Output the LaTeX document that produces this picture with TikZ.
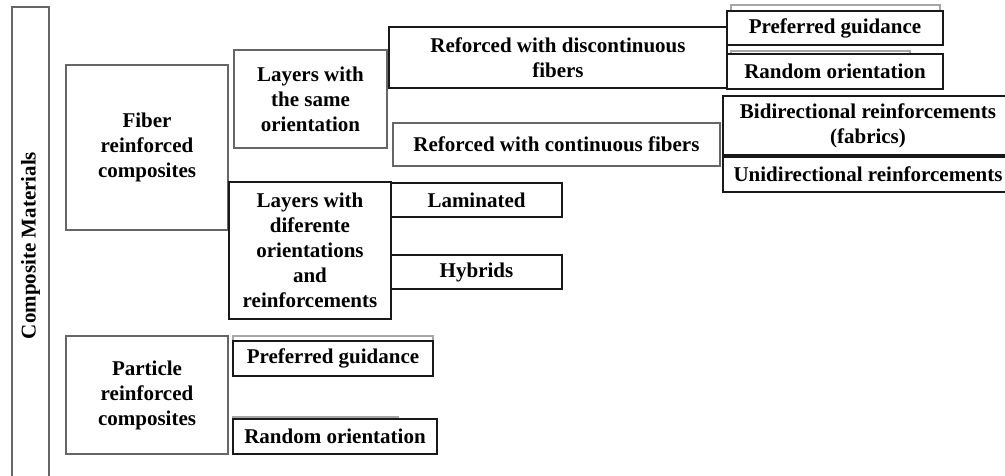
\documentclass[tikz,border=0pt]{standalone}
\usepackage{fontspec}
\setmainfont{Liberation Serif}
\begin{document}
\begin{tikzpicture}[x=1pt, y=-1pt,
    box/.style={draw=black!90, line width=1.4pt, fill=white, align=center, inner sep=2pt},
    greybox/.style={box, draw=black!60},
    ghost/.style={draw=black!35, line width=1.2pt}]
        \useasboundingbox (0,0) rectangle (1005,476);
        \fontsize{21}{25}\selectfont\bfseries

        % Main bar
        \node[greybox, rotate=90, minimum width=477, minimum height=37] (bar) at (30.5,245.5) {Composite Materials};

        % Faint boxes behind the choices
        \draw[ghost] (731,5) rectangle (940,30);
        \draw[ghost] (731,51) rectangle (910,64);
        \draw[ghost] (233,336) rectangle (433,350);
        \draw[ghost] (233,417) rectangle (398,430);

        % Fiber reinforced composites
        \node[greybox, minimum width=162, minimum height=165] (fiber) at (147,147.5) {Fiber\\reinforced\\composites};
        \node[greybox, minimum width=153, minimum height=98] (same) at (310.5,99) {Layers with\\the same\\orientation};
        \node[box, minimum width=162, minimum height=137] (diff) at (310,250.5) {Layers with\\diferente\\orientations\\and\\reinforcements};

        % Layers with the same orientation
        \node[box, minimum width=338, minimum height=61] (disc) at (558,57.5) {Reforced with discontinuous\\fibers};
        \node[greybox, minimum width=327, minimum height=43] (cont) at (556.5,144.5) {Reforced with continuous fibers};

        % Discontinuous fibers
        \node[box, minimum width=216, minimum height=34] (prefA) at (835,28) {Preferred guidance};
        \node[box, minimum width=216, minimum height=35] (randA) at (835,71.5) {Random orientation};

        % Continuous fibers
        \node[box, minimum width=290, minimum height=59] (bidir) at (868,125.5) {Bidirectional reinforcements\\(fabrics)};
        \node[box, minimum width=290, minimum height=35] (unidir) at (868,174.5) {Unidirectional reinforcements};

        % Layers with different orientations
        \node[box, minimum width=171, minimum height=34] (lam) at (476.5,200) {Laminated};
        \node[box, minimum width=171, minimum height=34] (hyb) at (476.5,272) {Hybrids};

        % Particle reinforced composites
        \node[greybox, minimum width=162, minimum height=118] (particle) at (147,395) {Particle\\reinforced\\composites};
        \node[box, minimum width=200, minimum height=35] (prefB) at (333,358.5) {Preferred guidance};
        \node[box, minimum width=204, minimum height=35] (randB) at (335,436.5) {Random orientation};
    \end{tikzpicture}
\end{document}
